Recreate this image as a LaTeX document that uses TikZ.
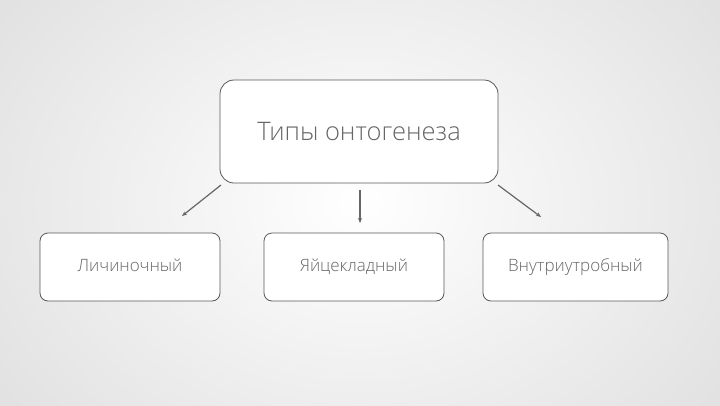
\documentclass[tikz,border=0pt]{standalone}
\usepackage{fontspec}
\setmainfont{Open Sans Light}[BoldFont=Open Sans]
\usetikzlibrary{arrows.meta}
\begin{document}
\begin{tikzpicture}[x=1pt,y=-1pt,
  box/.style={draw=black!65,line width=0.8pt,fill=white,rounded corners=8pt,text=black!60},
  small/.style={box,minimum height=68pt,font=\fontsize{17}{20}\selectfont,text height=12pt,text depth=4pt},
  conn/.style={draw=black!60,line width=1.2pt,-{Stealth[length=5pt,width=4pt]}}]
\useasboundingbox (0,0) rectangle (720,405);
\shade[inner color=white,outer color=black!12] (-100,-150) rectangle (820,555);
\node[box,minimum width=278pt,minimum height=103pt,rounded corners=14pt,font=\fontsize{25.5}{30}\selectfont] (top) at (359,131.5) {Типы онтогенеза};
\node[small,minimum width=180pt] (a) at (130,267) {Личиночный};
\node[small,minimum width=180pt] (b) at (354,267) {Яйцекладный};
\node[small,minimum width=185pt] (c) at (575.5,267) {Внутриутробный};
\coordinate (a1) at (221,185); \coordinate (a2) at (182,216);
\coordinate (b1) at (360,190); \coordinate (b2) at (360,223);
\coordinate (c1) at (498,185); \coordinate (c2) at (541,217);
\draw[conn] (a1) -- (a2);
\draw[conn] (b1) -- (b2);
\draw[conn] (c1) -- (c2);
\end{tikzpicture}
\end{document}
